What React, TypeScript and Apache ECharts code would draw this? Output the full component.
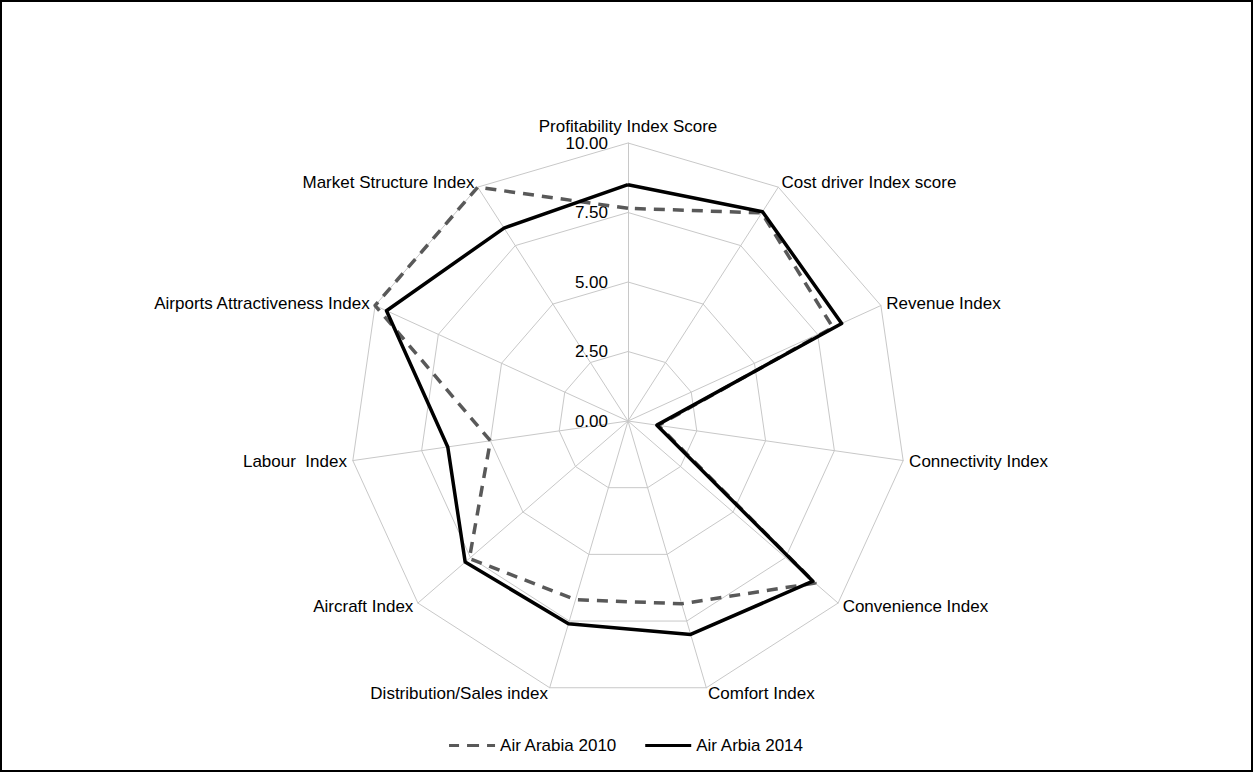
import React, { useEffect, useRef } from "react";
import * as echarts from "echarts";

// Indicators in clockwise order starting from the top
const indicatorNames = [
  "Profitability Index Score",
  "Cost driver Index score",
  "Revenue Index",
  "Connectivity Index",
  "Convenience Index",
  "Comfort Index",
  "Distribution/Sales index",
  "Aircraft Index",
  "Labour  Index",
  "Airports Attractiveness Index",
  "Market Structure Index",
];
const airArabia2010 = [7.65, 8.9, 8.1, 1.1, 8.9, 6.85, 6.7, 7.55, 5.0, 10.0, 10.0];
const airArbia2014 = [8.5, 8.95, 8.45, 1.05, 8.8, 8.0, 7.6, 7.75, 6.55, 9.55, 8.25];
const seriesNames = ["Air Arabia 2010", "Air Arbia 2014"];
const axisMin = 0;
const axisMax = 10;
const axisSplits = 4;

const FONT = 'Arial, "Liberation Sans", sans-serif';

// ECharts radar goes counter-clockwise; reorder to draw clockwise
const n = indicatorNames.length;
const order = indicatorNames.map((_, i) => (i === 0 ? 0 : n - i));
const reorder = <T,>(arr: T[]) => order.map((i) => arr[i]);

export default function App() {
  const ref = useRef<HTMLDivElement>(null);
  useEffect(() => {
    document.body.style.margin = "0";
    const chart = echarts.init(ref.current!, undefined, { renderer: "svg" });
    const indicators = reorder(indicatorNames).map((name, i) => {
      const ind: any = { name, min: axisMin, max: axisMax };
      if (i === 0) {
        ind.axisLabel = {
          show: true,
          color: "#000",
          fontSize: 17,
          fontFamily: FONT,
          margin: 20,
          formatter: (v: number) => v.toFixed(2),
        };
      }
      return ind;
    });
    chart.setOption({
      animation: false,
      backgroundColor: "#fff",
      textStyle: { fontFamily: FONT },
      graphic: [
        {
          type: "rect",
          shape: { x: 1, y: 1, width: 1251, height: 770 },
          style: { fill: "none", stroke: "#000", lineWidth: 2 },
          silent: true,
        },
      ],
      legend: {
        bottom: 13,
        left: "center",
        itemWidth: 46,
        itemHeight: 3,
        itemGap: 28,
        textStyle: { color: "#000", fontSize: 17, fontFamily: FONT },
        data: [
          {
            name: seriesNames[0],
            icon: "path://M0,0H10V3H0Z M18,0H30V3H18Z M38,0H46V3H38Z",
            itemStyle: { color: "#595959" },
          },
          { name: seriesNames[1], icon: "rect", itemStyle: { color: "#000" } },
        ],
      },
      radar: {
        center: [628, 421],
        radius: 278,
        startAngle: 90,
        shape: "polygon",
        splitNumber: axisSplits,
        indicator: indicators,
        axisName: { color: "#000", fontSize: 17, fontFamily: FONT },
        nameGap: 6,
        axisLine: { lineStyle: { color: "#c8c8c8", width: 1 } },
        splitLine: { lineStyle: { color: "#c8c8c8", width: 1 } },
        splitArea: { show: false },
        axisTick: { show: false },
        axisLabel: { show: false },
      },
      series: [
        {
          type: "radar",
          name: seriesNames[0],
          symbol: "none",
          z: 2,
          lineStyle: { color: "#595959", width: 3.5, type: [11, 8] },
          itemStyle: { color: "#595959" },
          data: [{ name: seriesNames[0], value: reorder(airArabia2010) }],
        },
        {
          type: "radar",
          name: seriesNames[1],
          symbol: "none",
          z: 3,
          lineStyle: { color: "#000", width: 3.5, type: "solid" },
          itemStyle: { color: "#000" },
          data: [{ name: seriesNames[1], value: reorder(airArbia2014) }],
        },
      ],
    });
    return () => chart.dispose();
  }, []);
  return <div ref={ref} style={{ width: 1253, height: 772 }} />;
}
